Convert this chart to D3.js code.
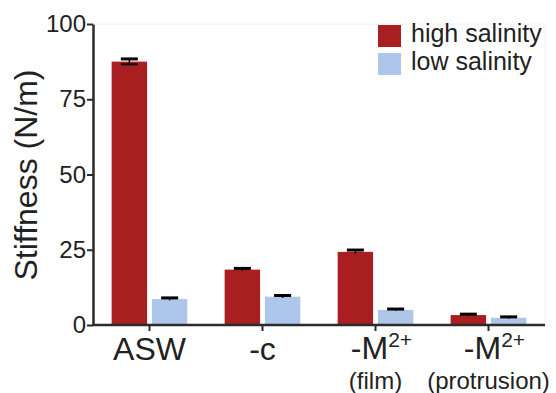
<!DOCTYPE html>
<html><head><meta charset="utf-8">
<script src="https://cdn.jsdelivr.net/npm/d3@7"></script>
<style>body{margin:0;background:#fff}svg{display:block}text{font-family:"Liberation Sans",Arial,sans-serif;fill:#222}</style>
</head><body>
<svg id="c" width="556" height="393"></svg>
<script>
const categories = ["ASW", "-c", "-M2+ (film)", "-M2+ (protrusion)"];
const series = ["high salinity", "low salinity"];
const highValues = [87.5, 18.4, 24.3, 3.3];
const lowValues = [8.6, 9.4, 5.0, 2.4];
const highErr = [0.9, 0.4, 0.6, 0.3];
const lowErr = [0.4, 0.4, 0.3, 0.3];
const yTicks = [0, 25, 50, 75, 100];
const colors = ["#a91f21", "#aec6e9"];

(function(){
const svg = d3.select("#c");
const mLeft = 93, mRight = 545, mTop = 24, mBottom = 325;
const x = d3.scaleBand().domain(categories).range([mLeft, mRight]).paddingInner(0.33).paddingOuter(0.165);
const xs = d3.scaleBand().domain(series).range([0, x.bandwidth()]).paddingInner(0.12);
const y = d3.scaleLinear().domain([0, 100]).range([mBottom, mTop]);

// faint frame
svg.append("path").attr("d", `M${mLeft},${mTop}H${mRight}V${mBottom}`).attr("fill","none").attr("stroke","#f0f0f0").attr("stroke-width",1);

const data = categories.map((c,i)=>({c, vals:[highValues[i], lowValues[i]], errs:[highErr[i], lowErr[i]]}));
const g = svg.append("g");
data.forEach(d=>{
  series.forEach((s,j)=>{
    const bx = x(d.c)+xs(s);
    g.append("rect").attr("x",bx).attr("y",y(d.vals[j])).attr("width",xs.bandwidth()).attr("height",y(0)-y(d.vals[j])).attr("fill",colors[j]);
    const cx = bx + xs.bandwidth()/2;
    const y1 = y(d.vals[j]+d.errs[j]), y0 = y(d.vals[j]-d.errs[j]);
    g.append("line").attr("x1",cx).attr("x2",cx).attr("y1",y1).attr("y2",y0).attr("stroke","#000").attr("stroke-width",1.5);
    g.append("line").attr("x1",cx-8.5).attr("x2",cx+8.5).attr("y1",y1).attr("y2",y1).attr("stroke","#000").attr("stroke-width",3);
    if (d.errs[j] > 0.6) g.append("line").attr("x1",cx-8.5).attr("x2",cx+8.5).attr("y1",y0).attr("y2",y0).attr("stroke","#000").attr("stroke-width",2);
  });
});

// y axis
const ya = svg.append("g").attr("transform",`translate(${mLeft},0)`)
  .call(d3.axisLeft(y).tickValues(yTicks).tickSize(6).tickPadding(1).tickSizeOuter(0));
ya.select(".domain").attr("stroke","#2b2b2b").attr("stroke-width",2.5);
ya.selectAll(".tick line").attr("stroke","#2b2b2b").attr("stroke-width",2);
ya.selectAll(".tick text").attr("font-size",24).attr("fill","#222").attr("font-family","Liberation Sans, Arial, sans-serif");

// x axis
const xa = svg.append("g").attr("transform",`translate(0,${mBottom})`)
  .call(d3.axisBottom(x).tickSize(6).tickSizeOuter(0).tickFormat(""));
xa.select(".domain").attr("stroke","#2b2b2b").attr("stroke-width",2.5).attr("d",`M${mLeft-1},0H${mRight}`);
xa.selectAll(".tick line").attr("stroke","#2b2b2b").attr("stroke-width",2);

// category labels
categories.forEach(c=>{
  const cx = x(c)+x.bandwidth()/2;
  const m = c.match(/^(-M)(2\+) \((.*)\)$/);
  if (m) {
    const t = svg.append("text").attr("x",cx+6).attr("y",359).attr("text-anchor","middle").attr("font-size",32);
    t.append("tspan").text(m[1]);
    t.append("tspan").attr("font-size",21).attr("dy",-12).text(m[2]);
    svg.append("text").attr("x",cx).attr("y",388.5).attr("text-anchor","middle").attr("font-size",24).text("("+m[3]+")");
  } else {
    svg.append("text").attr("x",cx).attr("y",360).attr("text-anchor","middle").attr("font-size",32).text(c);
  }
});

// y title
svg.append("text").attr("transform","translate(37,175) rotate(-90)").attr("text-anchor","middle").attr("font-size",32).text("Stiffness (N/m)");

// legend
series.forEach((s,j)=>{
  const ly = 25 + j*28;
  svg.append("rect").attr("x",378).attr("y",ly).attr("width",23).attr("height",22).attr("fill",colors[j]);
  svg.append("text").attr("x",411).attr("y",ly+17).attr("font-size",25).text(s);
});
})();
</script>
</body></html>
